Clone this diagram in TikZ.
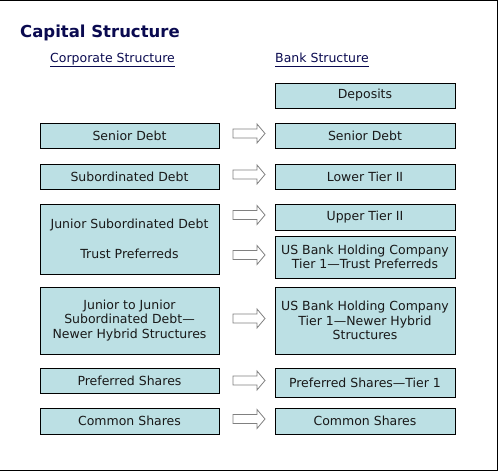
\documentclass[tikz,border=0pt]{standalone}
\usepackage{fontspec}
\setmainfont{DejaVu Sans}
\definecolor{boxfill}{RGB}{188,224,228}
\definecolor{navy}{RGB}{10,10,80}
\tikzset{pics/fatarrow/.style={code={
  \draw[arrowline](0,-4.5)--(24,-4.5)--(24,-9.5)--(32,0)--(24,9.5)--(24,4.5)--(0,4.5)--cycle;}}}
\begin{document}
\begin{tikzpicture}[x=1pt,y=1pt,
    box/.style={draw,fill=boxfill,line width=.9pt,minimum width=179pt,minimum height=25pt,
      inner sep=2pt,align=center,text=black!90,font=\fontsize{12.5}{14.5}\selectfont},
    head/.style={anchor=base west,inner sep=0pt,text=navy,font=\fontsize{12.5}{15}\selectfont},
    arrowline/.style={draw=gray,line width=.8pt,fill=white}]
    \useasboundingbox(0,0)rectangle(500,471);
    \draw[line width=1pt](0,470)--(497,470)--(497,1)--(0,1);
    \node[anchor=base west,inner sep=0pt,text=navy,font=\fontsize{16.5}{19}\bfseries\selectfont](title)at(20,433){Capital Structure};
    \node[head](corp)at(50,408){Corporate Structure};
    \node[head](bank)at(275,408){Bank Structure};
    \draw[navy,line width=.8pt]([yshift=-3pt]corp.base west)--([yshift=-3pt]corp.base east);
    \draw[navy,line width=.8pt]([yshift=-3pt]bank.base west)--([yshift=-3pt]bank.base east);
    % corporate side
    \node[box](lsen)at(129.5,335.5){Senior Debt};
    \node[box](lsub)at(129.5,294.5){Subordinated Debt};
    \node[box,minimum height=70pt](ljun)at(129.5,232){Junior Subordinated Debt\\[15.5pt]Trust Preferreds};
    \node[box,minimum height=67pt](ljj)at(129.5,150.5){Junior to Junior\\Subordinated Debt—\\Newer Hybrid Structures};
    \node[box](lpref)at(129.5,90.5){Preferred Shares};
    \node[box,minimum height=26pt](lcom)at(129.5,50){Common Shares};
    % bank side
    \node[box,minimum width=180pt](rdep)at(365,375.5){Deposits};
    \node[box,minimum width=180pt](rsen)at(365,335.5){Senior Debt};
    \node[box,minimum width=180pt](rlow)at(365,294.5){Lower Tier II};
    \node[box,minimum width=180pt,minimum height=26pt](rupp)at(365,254){Upper Tier II};
    \node[box,minimum width=180pt,minimum height=42pt](rtru)at(365,214){US Bank Holding Company\\Tier 1—Trust Preferreds};
    \node[box,minimum width=180pt,minimum height=67pt](rjj)at(365,150.5){US Bank Holding Company\\Tier 1—Newer Hybrid\\Structures};
    \node[box,minimum width=180pt,minimum height=29pt](rpref)at(365,88.5){Preferred Shares—Tier 1};
    \node[box,minimum width=180pt,minimum height=26pt](rcom)at(365,50){Common Shares};
    % arrows
    \coordinate(ax)at(233,0);
    \foreach \n in {rsen,rlow,rupp,rtru,rjj,rpref,rcom}
      \path(ax |- \n)++(0,2)pic{fatarrow};
\end{tikzpicture}
\end{document}
